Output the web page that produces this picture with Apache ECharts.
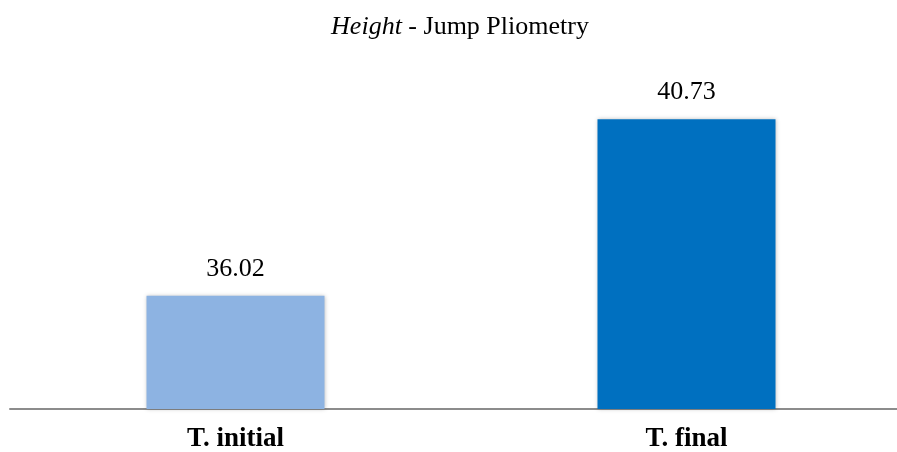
<!DOCTYPE html>
<html>
<head>
<meta charset="utf-8">
<script src="https://cdn.jsdelivr.net/npm/echarts@6/dist/echarts.min.js"></script>
<style>
  html, body { margin: 0; padding: 0; background: #fff; }
  #chart { width: 897px; height: 452px; }
</style>
</head>
<body>
<div id="chart"></div>
<script>
var categories = ['T. initial', 'T. final'];
var values = [36.02, 40.73];
var barColors = ['#8DB3E2', '#0070C0'];

var chart = echarts.init(document.getElementById('chart'));
var option = {
  animation: false,
  title: {
    text: '{i|Height} - Jump Pliometry',
    left: 455,
    textAlign: 'center',
    top: 9,
    textStyle: {
      fontFamily: 'Liberation Serif',
      fontSize: 26,
      fontWeight: 'normal',
      color: '#000',
      rich: {
        i: { fontFamily: 'Liberation Serif', fontSize: 26, fontStyle: 'italic', color: '#000' }
      }
    }
  },
  grid: {
    left: 10,
    width: 902,
    top: 109,
    bottom: 43,
    outerBoundsMode: 'none'
  },
  xAxis: {
    type: 'category',
    data: categories,
    axisLine: { lineStyle: { color: '#8c8c8c', width: 2 } },
    axisTick: { show: false },
    axisLabel: {
      fontFamily: 'Liberation Serif',
      fontWeight: 'bold',
      fontSize: 27,
      color: '#000',
      margin: 17
    }
  },
  yAxis: {
    type: 'value',
    min: 33,
    max: 41,
    show: false,
    splitLine: { show: false }
  },
  series: [{
    type: 'bar',
    barWidth: 178,
    data: values.map(function (v, i) {
      return {
        value: v,
        itemStyle: {
          color: barColors[i],
          shadowBlur: 4,
          shadowColor: 'rgba(0,0,0,0.25)'
        }
      };
    }),
    label: {
      show: true,
      position: 'top',
      distance: 14,
      formatter: function (p) { return p.value.toFixed(2); },
      fontFamily: 'Liberation Serif',
      fontSize: 26,
      color: '#000'
    }
  }]
};
chart.setOption(option);
</script>
</body>
</html>
